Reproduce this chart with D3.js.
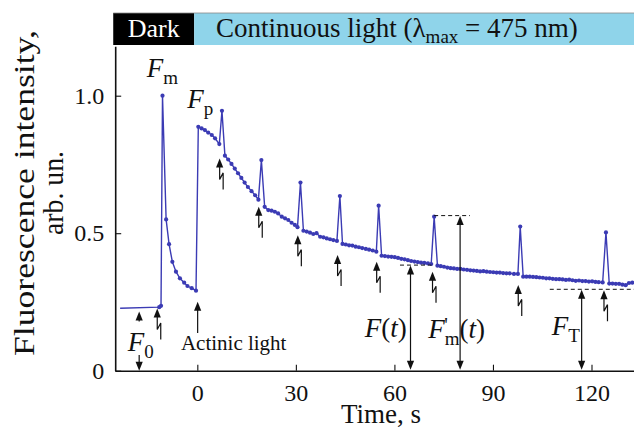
<!DOCTYPE html>
<html>
<head>
<meta charset="utf-8">
<script src="https://cdn.jsdelivr.net/npm/d3@7"></script>
<style>
  html, body { margin: 0; padding: 0; background: #fff; }
  svg { display: block; }
  svg text { font-family: "Liberation Serif", "Times New Roman", "DejaVu Serif", serif; }
</style>
</head>
<body>
<svg id="chart" width="634" height="428" font-family="Liberation Serif, serif"></svg>
<script>
// ---- Fluorescence induction trace (time in s, intensity in arb. units) ----
const timeS = [
  // dark-adapted baseline, saturating flash and dark relaxation
  -23.5, -11.6, -11.05, -10.6, -9.5, -8.6, -7.6, -6.5, -5.3, -4.0, -3.0, -1.7, -0.4,
  // actinic light on
  0.3, 1.3, 2.3, 3.3, 4.4, 5.4, 6.7, 7.5,
  8.4, 9.4, 10.4, 11.4, 12.4, 13.4, 14.4, 15.4, 16.5, 17.6, 18.6, 19.5,
  20.5, 21.6, 22.6, 23.6, 24.6, 25.7, 26.7, 27.7, 28.7, 29.7, 30.5, 31.4,
  32.3, 33.3, 34.3, 35.3, 36.3, 37.4, 38.4, 39.4, 40.4, 41.4, 42.5, 43.4,
  44.2, 45.2, 46.2, 47.2, 48.2, 49.2, 50.2, 51.3, 52.3, 53.4, 54.5, 55.2,
  56.1, 57.1, 58.1, 59.1, 60.1, 61.1, 62.1, 63.1, 64.1, 65.1, 66.1, 67.1, 68.1, 69.1, 70.2, 71.2, 72.1,
  73.1, 74.1, 75.1, 76.1, 77.1, 78.1, 79.1, 80.1, 81.1, 82.1, 83.1, 84.1, 85.1, 86.1, 87.1, 88.1,
  89.1, 90.1, 91.1, 92.1, 93.1, 94.1, 95.1, 96.4, 97.6, 98.3,
  99.2, 100.2, 101.2, 102.2, 103.2, 104.2, 105.2, 106.2, 107.2, 108.2, 109.2, 110.2, 111.2,
  112.2, 113.2, 114.2, 115.2, 116.2, 117.2, 118.2, 119.2, 120.2, 121.2, 122.2, 123.4, 124.4,
  125.4, 126.4, 127.4, 128.4, 129.4, 130.4, 131.4, 132.4
];
const fluorescence = [
  0.227, 0.231, 0.236, 1.000, 0.550, 0.460, 0.396, 0.360, 0.336, 0.320, 0.308, 0.300, 0.291,
  0.887, 0.881, 0.875, 0.866, 0.857, 0.845, 0.824, 0.945,
  0.782, 0.768, 0.752, 0.735, 0.718, 0.701, 0.684, 0.668, 0.653, 0.638, 0.622, 0.766,
  0.596, 0.584, 0.582, 0.578, 0.572, 0.560, 0.554, 0.548, 0.538, 0.530, 0.522, 0.684,
  0.509, 0.506, 0.502, 0.497, 0.500, 0.487, 0.485, 0.481, 0.478, 0.475, 0.472, 0.635,
  0.461, 0.459, 0.456, 0.455, 0.451, 0.449, 0.446, 0.443, 0.440, 0.437, 0.433, 0.600,
  0.418, 0.417, 0.415, 0.414, 0.413, 0.410, 0.407, 0.405, 0.402, 0.399, 0.397, 0.395, 0.393, 0.392, 0.390, 0.388, 0.560,
  0.382, 0.380, 0.378, 0.375, 0.373, 0.372, 0.370, 0.370, 0.368, 0.367, 0.365, 0.364, 0.363, 0.361, 0.362, 0.360,
  0.359, 0.358, 0.357, 0.357, 0.355, 0.354, 0.354, 0.352, 0.352, 0.524,
  0.342, 0.342, 0.342, 0.341, 0.340, 0.339, 0.338, 0.336, 0.336, 0.334, 0.333, 0.333, 0.332,
  0.330, 0.331, 0.329, 0.327, 0.328, 0.326, 0.326, 0.324, 0.325, 0.323, 0.322, 0.321, 0.503,
  0.317, 0.317, 0.316, 0.316, 0.313, 0.311, 0.319, 0.320
];

// Axis ticks
const xTicks = [0, 30, 60, 90, 120];
const yTicks = [0, 0.5, 1.0];

// Saturating flashes: marker position (time, level of arrow tip)
const flashTimes  = [-12.2, 6.8, 18.7, 30.6, 42.7, 54.6, 71.6, 97.7, 123.8];
const flashLevels = [0.226, 0.772, 0.596, 0.493, 0.421, 0.396, 0.360, 0.312, 0.293];

// Levels marked with dashed guides and double arrows: F(t), F'm(t), FT
const guideTimes  = [64.9, 80.0, 117.0];
const guideLevels = [0.384, 0.564, 0.296];
const guideFrom   = [61.7, 72.1, 107.3];
const guideTo     = [71.3, 83.0, 140];

// Illumination phases shown in the header band
const phaseLabels = ["Dark", "Continuous light"];
const phaseStart  = [-25.6, -0.95];
const phaseEnd    = [-0.95, 140];

const FONT = "Liberation Serif, Times New Roman, serif";
const svg = d3.select("#chart");
const W = 634;
const x = d3.scaleLinear().domain([-25, 133]).range([115.2, 634.2]);
const y = d3.scaleLinear().domain([0, 1.18]).range([370.7, 46.2]);
const lineColor = "#3b3bb4";

// ---- header band ----
const bandTop = 13, bandH = 32;
svg.append("rect").attr("x", x(phaseStart[0])).attr("y", bandTop)
  .attr("width", x(phaseEnd[0]) - x(phaseStart[0])).attr("height", bandH).attr("fill", "#000");
svg.append("rect").attr("x", x(phaseStart[1])).attr("y", bandTop)
  .attr("width", W - x(phaseStart[1])).attr("height", bandH).attr("fill", "#8fd4ea");
svg.append("line").attr("x1", x(phaseStart[0])).attr("x2", W).attr("y1", bandTop).attr("y2", bandTop)
  .attr("stroke", "#888").attr("stroke-width", 0.8);
svg.append("text").attr("x", (x(phaseStart[0]) + x(phaseEnd[0])) / 2).attr("y", 37)
  .attr("font-family", FONT).attr("text-anchor", "middle").attr("font-size", 26).attr("fill", "#fff")
  .text(phaseLabels[0]);
const band2 = svg.append("text").attr("x", 216).attr("y", 37).attr("font-family", FONT)
  .attr("font-size", 27).attr("fill", "#111");
band2.append("tspan").text(phaseLabels[1] + " (\u03bb");
band2.append("tspan").attr("font-size", 19).attr("dy", 6).text("max");
band2.append("tspan").attr("dy", -6).text(" = 475 nm)");

// ---- axes ----
const xAxis = d3.axisBottom(x).tickValues(xTicks).tickSizeInner(-6).tickSizeOuter(0).tickPadding(13);
const gx = svg.append("g").attr("transform", `translate(0,${y(0)})`).call(xAxis);
const yAxis = d3.axisLeft(y).tickValues(yTicks).tickSizeInner(-6).tickSizeOuter(0).tickPadding(11)
  .tickFormat(d => d === 0 ? "0" : d.toFixed(1));
const gy = svg.append("g").attr("transform", `translate(${x(-25)},0)`).call(yAxis);

[gx, gy].forEach(g => {
  g.attr("font-family", FONT).attr("font-size", 24);
  g.selectAll("text").attr("fill", "#111");
  g.select(".domain").attr("stroke", "#111").attr("stroke-width", 1.6);
  g.selectAll(".tick line").attr("stroke", "#111").attr("stroke-width", 1.1);
});

svg.append("text").attr("x", 381).attr("y", 423).attr("text-anchor", "middle")
  .attr("font-family", FONT).attr("font-size", 27).attr("fill", "#111").text("Time, s");

const yLab = svg.append("text").attr("transform", "translate(0,193) rotate(-90)")
  .attr("font-family", FONT).attr("text-anchor", "middle").attr("font-size", 29).attr("fill", "#111");
yLab.append("tspan").attr("x", 0).attr("y", 34)
  .attr("textLength", 326).attr("lengthAdjust", "spacingAndGlyphs").text("Fluorescence intensity,");
yLab.append("tspan").attr("x", 0).attr("y", 63)
  .attr("textLength", 84).attr("lengthAdjust", "spacingAndGlyphs").text("arb. un.");

// ---- trace ----
const pts = timeS.map((t, i) => [t, fluorescence[i]]);
svg.append("path").datum(pts)
  .attr("fill", "none").attr("stroke", lineColor).attr("stroke-width", 1.4)
  .attr("d", d3.line().x(d => x(d[0])).y(d => y(d[1])));
svg.append("g").selectAll("circle").data(pts.slice(1)).join("circle")
  .attr("cx", d => x(d[0])).attr("cy", d => y(d[1])).attr("r", 2.1).attr("fill", lineColor);

// ---- annotation helpers ----
const ann = svg.append("g").attr("stroke", "#111").attr("fill", "#111");
function head(px, py, dir) { // dir: -1 points up, +1 points down
  const L = 9, hw = 3.6;
  ann.append("path").attr("stroke", "none")
    .attr("d", `M${px},${py} L${px - hw},${py - dir * L} L${px + hw},${py - dir * L} Z`);
}
function shaft(px, y1, y2) {
  ann.append("line").attr("x1", px).attr("x2", px).attr("y1", y1).attr("y2", y2).attr("stroke-width", 1.2);
}

// flash markers: arrow with a lightning zigzag
flashTimes.forEach((t, i) => {
  const px = x(t), ty = y(flashLevels[i]);
  head(px, ty, -1);
  ann.append("path").attr("fill", "none").attr("stroke-width", 1.2)
    .attr("d", `M${px},${ty + 6} L${px},${ty + 21} L${px + 3.5},${ty + 14.5} L${px + 3.5},${ty + 31}`);
});

// F0 arrows
const f0x = x(-17.7);
head(f0x, y(0.215), -1); shaft(f0x, y(0.215) + 5, y(0.179));
head(f0x, y(0), 1); shaft(f0x, y(0.057), y(0) - 5);

// actinic light arrow
const alx = x(0.1);
head(alx, y(0.251), -1); shaft(alx, y(0.251) + 5, y(0.137));

// dashed guides and double arrows
guideTimes.forEach((t, i) => {
  ann.append("line").attr("x1", x(guideFrom[i])).attr("x2", Math.min(W, x(guideTo[i])))
    .attr("y1", y(guideLevels[i])).attr("y2", y(guideLevels[i]))
    .attr("stroke-width", 1).attr("stroke-dasharray", "4,3");
  const px = x(t);
  head(px, y(guideLevels[i]) + 0.5, -1);
  head(px, y(0) - 1, 1);
  shaft(px, y(guideLevels[i]) + 5, y(0) - 5);
});

// ---- labels ----
const labels = svg.append("g").attr("fill", "#111");
function fLabel(t, v, sub, tail, prime) {
  const tx = labels.append("text").attr("x", x(t)).attr("y", y(v))
    .attr("font-family", FONT).attr("font-size", 27);
  tx.append("tspan").attr("font-style", "italic").text("F");
  tx.append("tspan").attr("font-size", 19).attr("dy", 7).text(sub);
  if (tail) {
    tx.append("tspan").attr("dy", -7).text("(");
    tx.append("tspan").attr("font-style", "italic").text("t");
    tx.append("tspan").text(")");
  }
  if (prime) {
    labels.append("text").attr("x", x(t) + 16).attr("y", y(v) - 6)
      .attr("font-family", FONT).attr("font-size", 20).text("'");
  }
}
fLabel(-15.4, 1.068, "m");
fLabel(-3.1, 0.955, "p");
fLabel(-21.2, 0.071, "0");
fLabel(107.9, 0.129, "T");
// F(t)
const ft = labels.append("text").attr("x", x(51.0)).attr("y", y(0.122))
  .attr("font-family", FONT).attr("font-size", 27);
ft.append("tspan").attr("font-style", "italic").text("F");
ft.append("tspan").text("(");
ft.append("tspan").attr("font-style", "italic").text("t");
ft.append("tspan").text(")");
// F'm(t)
fLabel(70.3, 0.119, "m", true, true);

labels.append("text").attr("x", x(-5.0)).attr("y", y(0.075))
  .attr("font-family", FONT).attr("font-size", 21).text("Actinic light");
</script>
</body>
</html>
